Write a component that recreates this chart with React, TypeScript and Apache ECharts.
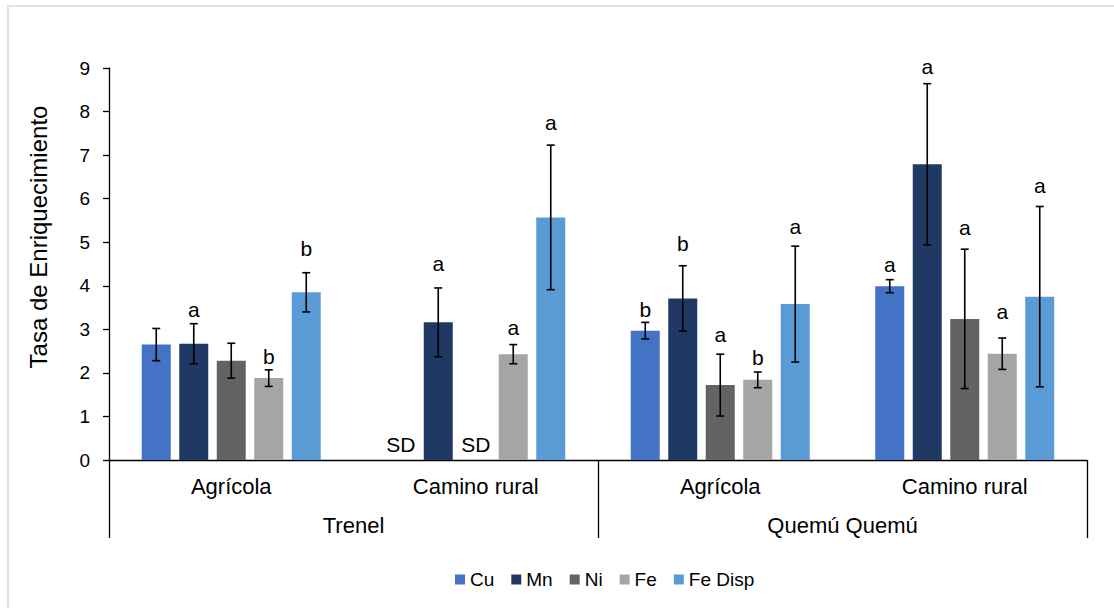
import React, { useEffect, useRef } from "react";
import * as echarts from "echarts";

const categories = ["Agrícola", "Camino rural", "Agrícola", "Camino rural"];
const sites = ["Trenel", "Quemú Quemú"];
const seriesNames = ["Cu", "Mn", "Ni", "Fe", "Fe Disp"];
const colors = ["#4472C4", "#203864", "#636363", "#A5A5A5", "#5B9BD5"];

const cu = [2.65, null, 2.97, 3.99];
const cuErr = [0.37, null, 0.19, 0.15];
const mn = [2.67, 3.16, 3.71, 6.79];
const mnErr = [0.46, 0.79, 0.75, 1.85];
const ni = [2.28, null, 1.72, 3.24];
const niErr = [0.4, null, 0.71, 1.6];
const fe = [1.88, 2.43, 1.84, 2.44];
const feErr = [0.19, 0.22, 0.18, 0.36];
const feDisp = [3.85, 5.57, 3.58, 3.75];
const feDispErr = [0.45, 1.66, 1.33, 2.07];

const cuLetters = ["", "SD", "b", "a"];
const cuLetterAt = [null, 0.19, 3.29, 4.32];
const mnLetters = ["a", "a", "b", "a"];
const mnLetterAt = [3.29, 4.35, 4.8, 8.86];
const niLetters = ["", "SD", "a", "a"];
const niLetterAt = [null, 0.19, 2.72, 5.16];
const feLetters = ["b", "a", "b", "a"];
const feLetterAt = [2.2, 2.86, 2.18, 3.23];
const feDispLetters = ["b", "a", "a", "a"];
const feDispLetterAt = [4.69, 7.58, 5.18, 6.14];

const values = [cu, mn, ni, fe, feDisp];
const errors = [cuErr, mnErr, niErr, feErr, feDispErr];
const letters = [cuLetters, mnLetters, niLetters, feLetters, feDispLetters];
const letterAt = [cuLetterAt, mnLetterAt, niLetterAt, feLetterAt, feDispLetterAt];

const FONT = "'Liberation Sans', Arial, sans-serif";
const BAR_W = 29;
const BAR_GAP = 8.5;

function letterData(i: number) {
  return letterAt[i]
    .map((v, c) => (v == null || !letters[i][c] ? null : [c, v, letters[i][c]]))
    .filter((d) => d != null) as any[];
}

export default function App() {
  const ref = useRef<HTMLDivElement>(null);
  useEffect(() => {
    if (!ref.current) return;
    const chart = echarts.init(ref.current, null, { renderer: "svg" });
    const offsetOf = (i: number) => (i - 2) * (BAR_W + BAR_GAP);

    const barSeries = seriesNames.map((name, i) => ({
      name,
      type: "bar",
      xAxisIndex: 0,
      data: values[i],
      barWidth: BAR_W,
      barGap: (BAR_GAP / BAR_W) * 100 + "%",
      itemStyle: { color: colors[i] },
      z: 2,
    }));

    const errSeries = seriesNames.map((name, i) => ({
      name: name + " err",
      type: "custom",
      xAxisIndex: 0,
      z: 5,
      data: values[i]
        .map((v, c) => (v == null || errors[i][c] == null ? null : [c, v - (errors[i][c] as number), v + (errors[i][c] as number)]))
        .filter((d) => d != null),
      encode: { x: 0, y: [1, 2] },
      renderItem: (params: any, api: any) => {
        const c = api.value(0);
        const lo = api.coord([c, api.value(1)]);
        const hi = api.coord([c, api.value(2)]);
        const x = lo[0] + offsetOf(i);
        const cap = 4;
        const st = { stroke: "#000", lineWidth: 1.6 };
        return {
          type: "group",
          children: [
            { type: "line", shape: { x1: x, y1: lo[1], x2: x, y2: hi[1] }, style: st },
            { type: "line", shape: { x1: x - cap, y1: lo[1], x2: x + cap, y2: lo[1] }, style: st },
            { type: "line", shape: { x1: x - cap, y1: hi[1], x2: x + cap, y2: hi[1] }, style: st },
          ],
        };
      },
    }));

    const letterSeries = seriesNames.map((name, i) => ({
      name: name + " letters",
      type: "custom",
      xAxisIndex: 0,
      z: 6,
      data: letterData(i),
      encode: { x: 0, y: 1 },
      renderItem: (params: any, api: any) => {
        const c = api.value(0);
        const p = api.coord([c, api.value(1)]);
        const item = letterData(i)[params.dataIndex];
        return {
          type: "text",
          x: p[0] + offsetOf(i),
          y: p[1] + 3,
          style: {
            text: item[2],
            fontSize: 21,
            fontFamily: FONT,
            fill: "#000",
            align: "center",
            verticalAlign: "bottom",
          },
        };
      },
    }));

    chart.setOption({
      animation: false,
      textStyle: { fontFamily: FONT },
      grid: { left: 109, right: 27, top: 68, bottom: 148, containLabel: false },
      legend: {
        data: seriesNames,
        left: 450,
        top: 565,
        itemWidth: 10,
        itemHeight: 10,
        itemGap: 17,
        icon: "rect",
        textStyle: { fontSize: 19, color: "#000", fontFamily: FONT },
      },
      xAxis: [
        {
          type: "category",
          data: categories,
          position: "bottom",
          axisLine: { show: true, lineStyle: { color: "#000", width: 1.3 } },
          axisTick: { show: false },
          axisLabel: { fontSize: 22, color: "#000", margin: 15, fontFamily: FONT, interval: 0 },
          splitLine: { show: false },
        },
        {
          type: "category",
          data: sites,
          position: "bottom",
          axisLine: { show: false },
          axisTick: { show: true, length: 78, lineStyle: { color: "#000", width: 1.3 } },
          axisLabel: { fontSize: 22, color: "#000", margin: 54, fontFamily: FONT, interval: 0 },
          splitLine: { show: false },
        },
      ],
      yAxis: {
        type: "value",
        min: 0,
        max: 9,
        interval: 1,
        axisLine: { show: true, lineStyle: { color: "#000", width: 1.3 } },
        axisTick: { show: true, length: 6, lineStyle: { color: "#000", width: 1.3 } },
        axisLabel: { fontSize: 19, color: "#000", margin: 19, fontFamily: FONT },
        splitLine: { show: false },
      },
      graphic: [
        {
          type: "rect",
          shape: { x: 8, y: 6, width: 1200, height: 700 },
          style: { fill: "none", stroke: "#d9d9d9", lineWidth: 1.5 },
          silent: true,
        },
        {
          type: "text",
          x: 38,
          y: 237,
          rotation: Math.PI / 2,
          style: {
            text: "Tasa de Enriquecimiento",
            fontSize: 24,
            fontFamily: FONT,
            fill: "#000",
            align: "center",
            verticalAlign: "middle",
          },
        },
      ],
      series: [...barSeries, ...errSeries, ...letterSeries],
    });
    return () => chart.dispose();
  }, []);
  return (
    <div
      ref={ref}
      style={{ position: "fixed", left: 0, top: 0, width: 1114, height: 608, background: "#fff" }}
    />
  );
}
